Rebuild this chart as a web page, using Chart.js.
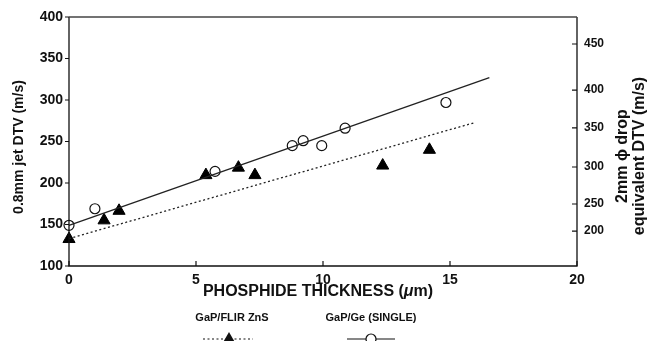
<!DOCTYPE html>
<html lang="en">

<head>
    <meta charset="UTF-8">
    <title>Jet DTV vs phosphide thickness</title>
    <script src="https://cdn.jsdelivr.net/npm/chart.js@4.4.1/dist/chart.umd.min.js"></script>
    <style>
        html, body {
            margin: 0;
            padding: 0;
            background: #fff;
        }

        #chartContainer {
            width: 648px;
            height: 341px;
        }
    </style>
</head>

<body>
    <div id="chartContainer">
        <canvas id="myChart"></canvas>
    </div>

    <script>
        const FONT = "'Liberation Sans', Arial, Helvetica, sans-serif";

        // GaP/Ge (single) samples: open circles
        const thicknessGe = [0, 1.02, 5.75, 8.79, 9.22, 9.95, 10.87, 14.84];
        const dtvGe = [149, 169, 214, 245, 251, 245, 266, 297];

        // GaP/FLIR ZnS samples: filled triangles
        const thicknessZnS = [0, 1.38, 1.97, 5.39, 6.67, 7.32, 12.35, 14.19];
        const dtvZnS = [132.5, 155, 166.5, 209.5, 218.5, 209.5, 221, 240];

        // fitted lines (end points)
        const fitGeX = [0, 16.55];
        const fitGeY = [149, 327];
        const fitZnSX = [0, 16.0];
        const fitZnSY = [133, 273];

        const xTicks = [0, 5, 10, 15, 20];
        const yTicks = [100, 150, 200, 250, 300, 350, 400];

        // 2mm drop equivalent scale, with the jet DTV each label sits at
        const dropTickLabels = ['200', '250', '300', '350', '400', '450'];
        const dropTickAt = [142, 174.7, 219.3, 266.3, 312, 367.5];

        const legendLabels = ['GaP/FLIR ZnS', 'GaP/Ge (SINGLE)'];

        function toPoints(xs, ys)
        {
            return xs.map((x, i) => ({ x: x, y: ys[i] }));
        }

        // axis frame, tick marks, titles and the legend underneath
        const decorations = {
            id: 'decorations',
            afterDraw(chart)
            {
                const c = chart.ctx;
                const a = chart.chartArea;
                const sx = chart.scales.x, sy = chart.scales.y, sy2 = chart.scales.y2;
                c.save();
                c.strokeStyle = '#111';
                c.lineWidth = 1.3;
                c.beginPath();
                c.moveTo(a.left, a.top); c.lineTo(a.left, a.bottom);
                c.lineTo(a.right, a.bottom); c.lineTo(a.right, a.top);
                c.stroke();
                c.strokeStyle = '#444';
                c.beginPath();
                c.moveTo(a.left, a.top); c.lineTo(a.right, a.top);
                c.stroke();

                c.strokeStyle = '#111';
                c.lineWidth = 1.2;
                c.beginPath();
                yTicks.forEach(v =>
                {
                    const y = sy.getPixelForValue(v);
                    c.moveTo(a.left - 4, y); c.lineTo(a.left, y);
                });
                xTicks.forEach(v =>
                {
                    const x = sx.getPixelForValue(v);
                    c.moveTo(x, a.bottom); c.lineTo(x, a.bottom - 5);
                });
                dropTickAt.forEach(v =>
                {
                    const y = sy2.getPixelForValue(v);
                    c.moveTo(a.right - 5, y); c.lineTo(a.right, y);
                });
                c.stroke();

                c.fillStyle = '#111';
                c.textAlign = 'center';
                c.textBaseline = 'middle';

                // left title
                c.save();
                c.translate(19, 147);
                c.rotate(-Math.PI / 2);
                c.font = 'bold 14px ' + FONT;
                c.fillText('0.8mm jet DTV (m/s)', 0, 0);
                c.restore();

                // right title, two lines
                c.save();
                c.translate(623, 156);
                c.rotate(-Math.PI / 2);
                c.font = 'bold 16px ' + FONT;
                c.fillText('2mm \u03D5 drop', 0, 0);
                c.fillText('equivalent DTV (m/s)', 0, 17);
                c.restore();

                // x title with italic mu
                const partA = 'PHOSPHIDE THICKNESS (', mu = '\u03BC', partB = 'm)';
                const fB = 'bold 16px ' + FONT, fI = 'italic bold 16px ' + FONT;
                c.font = fB;
                const wA = c.measureText(partA).width, wB = c.measureText(partB).width;
                c.font = fI;
                const wM = c.measureText(mu).width;
                let tx = 318 - (wA + wM + wB) / 2;
                c.textAlign = 'left';
                c.font = fB; c.fillText(partA, tx, 292); tx += wA;
                c.font = fI; c.fillText(mu, tx, 292); tx += wM;
                c.font = fB; c.fillText(partB, tx, 292);

                // legend: label above a line sample with its marker
                c.textAlign = 'center';
                c.font = 'bold 11px ' + FONT;
                c.fillText(legendLabels[0], 232, 318);
                c.fillText(legendLabels[1], 371, 318);

                const ly = 339;
                c.lineWidth = 1.2;
                c.setLineDash([2, 2.5]);
                c.beginPath(); c.moveTo(203, ly); c.lineTo(253, ly); c.stroke();
                c.setLineDash([]);
                c.beginPath(); c.moveTo(347, ly); c.lineTo(395, ly); c.stroke();

                c.beginPath();
                c.moveTo(229, ly - 7);
                c.lineTo(229 + 6.06, ly + 3.5);
                c.lineTo(229 - 6.06, ly + 3.5);
                c.closePath();
                c.fill();

                c.beginPath();
                c.arc(371, ly, 5, 0, Math.PI * 2);
                c.fillStyle = '#fff';
                c.fill();
                c.stroke();
                c.restore();
            }
        };

        const ctx = document.getElementById('myChart').getContext('2d');
        const chart = new Chart(ctx, {
            type: 'scatter',
            data: {
                datasets: [
                    {
                        label: legendLabels[0] + ' fit',
                        data: toPoints(fitZnSX, fitZnSY),
                        showLine: true,
                        borderColor: '#222',
                        borderWidth: 1.3,
                        borderDash: [2, 2.5],
                        pointRadius: 0,
                        clip: false
                    },
                    {
                        label: legendLabels[1] + ' fit',
                        data: toPoints(fitGeX, fitGeY),
                        showLine: true,
                        borderColor: '#222',
                        borderWidth: 1.3,
                        pointRadius: 0,
                        clip: false
                    },
                    {
                        label: legendLabels[0],
                        data: toPoints(thicknessZnS, dtvZnS),
                        pointStyle: 'triangle',
                        pointRadius: 7,
                        backgroundColor: '#000',
                        borderColor: '#000',
                        borderWidth: 1,
                        clip: false
                    },
                    {
                        label: legendLabels[1],
                        data: toPoints(thicknessGe, dtvGe),
                        pointStyle: 'circle',
                        pointRadius: 5,
                        backgroundColor: '#fff',
                        borderColor: '#111',
                        borderWidth: 1.2,
                        clip: false
                    }
                ]
            },
            options: {
                responsive: true,
                maintainAspectRatio: false,
                animation: false,
                layout: {
                    padding: { top: 17, left: 0, right: 0, bottom: 0 }
                },
                plugins: {
                    legend: { display: false },
                    tooltip: { enabled: false }
                },
                scales: {
                    x: {
                        type: 'linear',
                        position: 'bottom',
                        min: 0,
                        max: 20,
                        afterBuildTicks: (scale) => { scale.ticks = xTicks.map(v => ({ value: v })); },
                        afterFit: (scale) => { scale.height = 75; },
                        grid: { display: false, drawTicks: false },
                        border: { display: false },
                        ticks: {
                            padding: 6,
                            color: '#111',
                            font: { family: FONT, size: 14, weight: 'bold' }
                        }
                    },
                    y: {
                        type: 'linear',
                        position: 'left',
                        min: 100,
                        max: 400,
                        afterBuildTicks: (scale) => { scale.ticks = yTicks.map(v => ({ value: v })); },
                        afterFit: (scale) => { scale.width = 69; },
                        grid: { display: false, drawTicks: false },
                        border: { display: false },
                        ticks: {
                            padding: 6,
                            color: '#111',
                            font: { family: FONT, size: 14, weight: 'bold' }
                        }
                    },
                    y2: {
                        type: 'linear',
                        position: 'right',
                        min: 100,
                        max: 400,
                        afterBuildTicks: (scale) => { scale.ticks = dropTickAt.map(v => ({ value: v })); },
                        afterFit: (scale) => { scale.width = 71; },
                        grid: { display: false, drawTicks: false },
                        border: { display: false },
                        ticks: {
                            padding: 7,
                            color: '#111',
                            font: { family: FONT, size: 12, weight: 'bold' },
                            callback: (value, index) => dropTickLabels[index]
                        }
                    }
                }
            },
            plugins: [decorations]
        });
    </script>
</body>

</html>
